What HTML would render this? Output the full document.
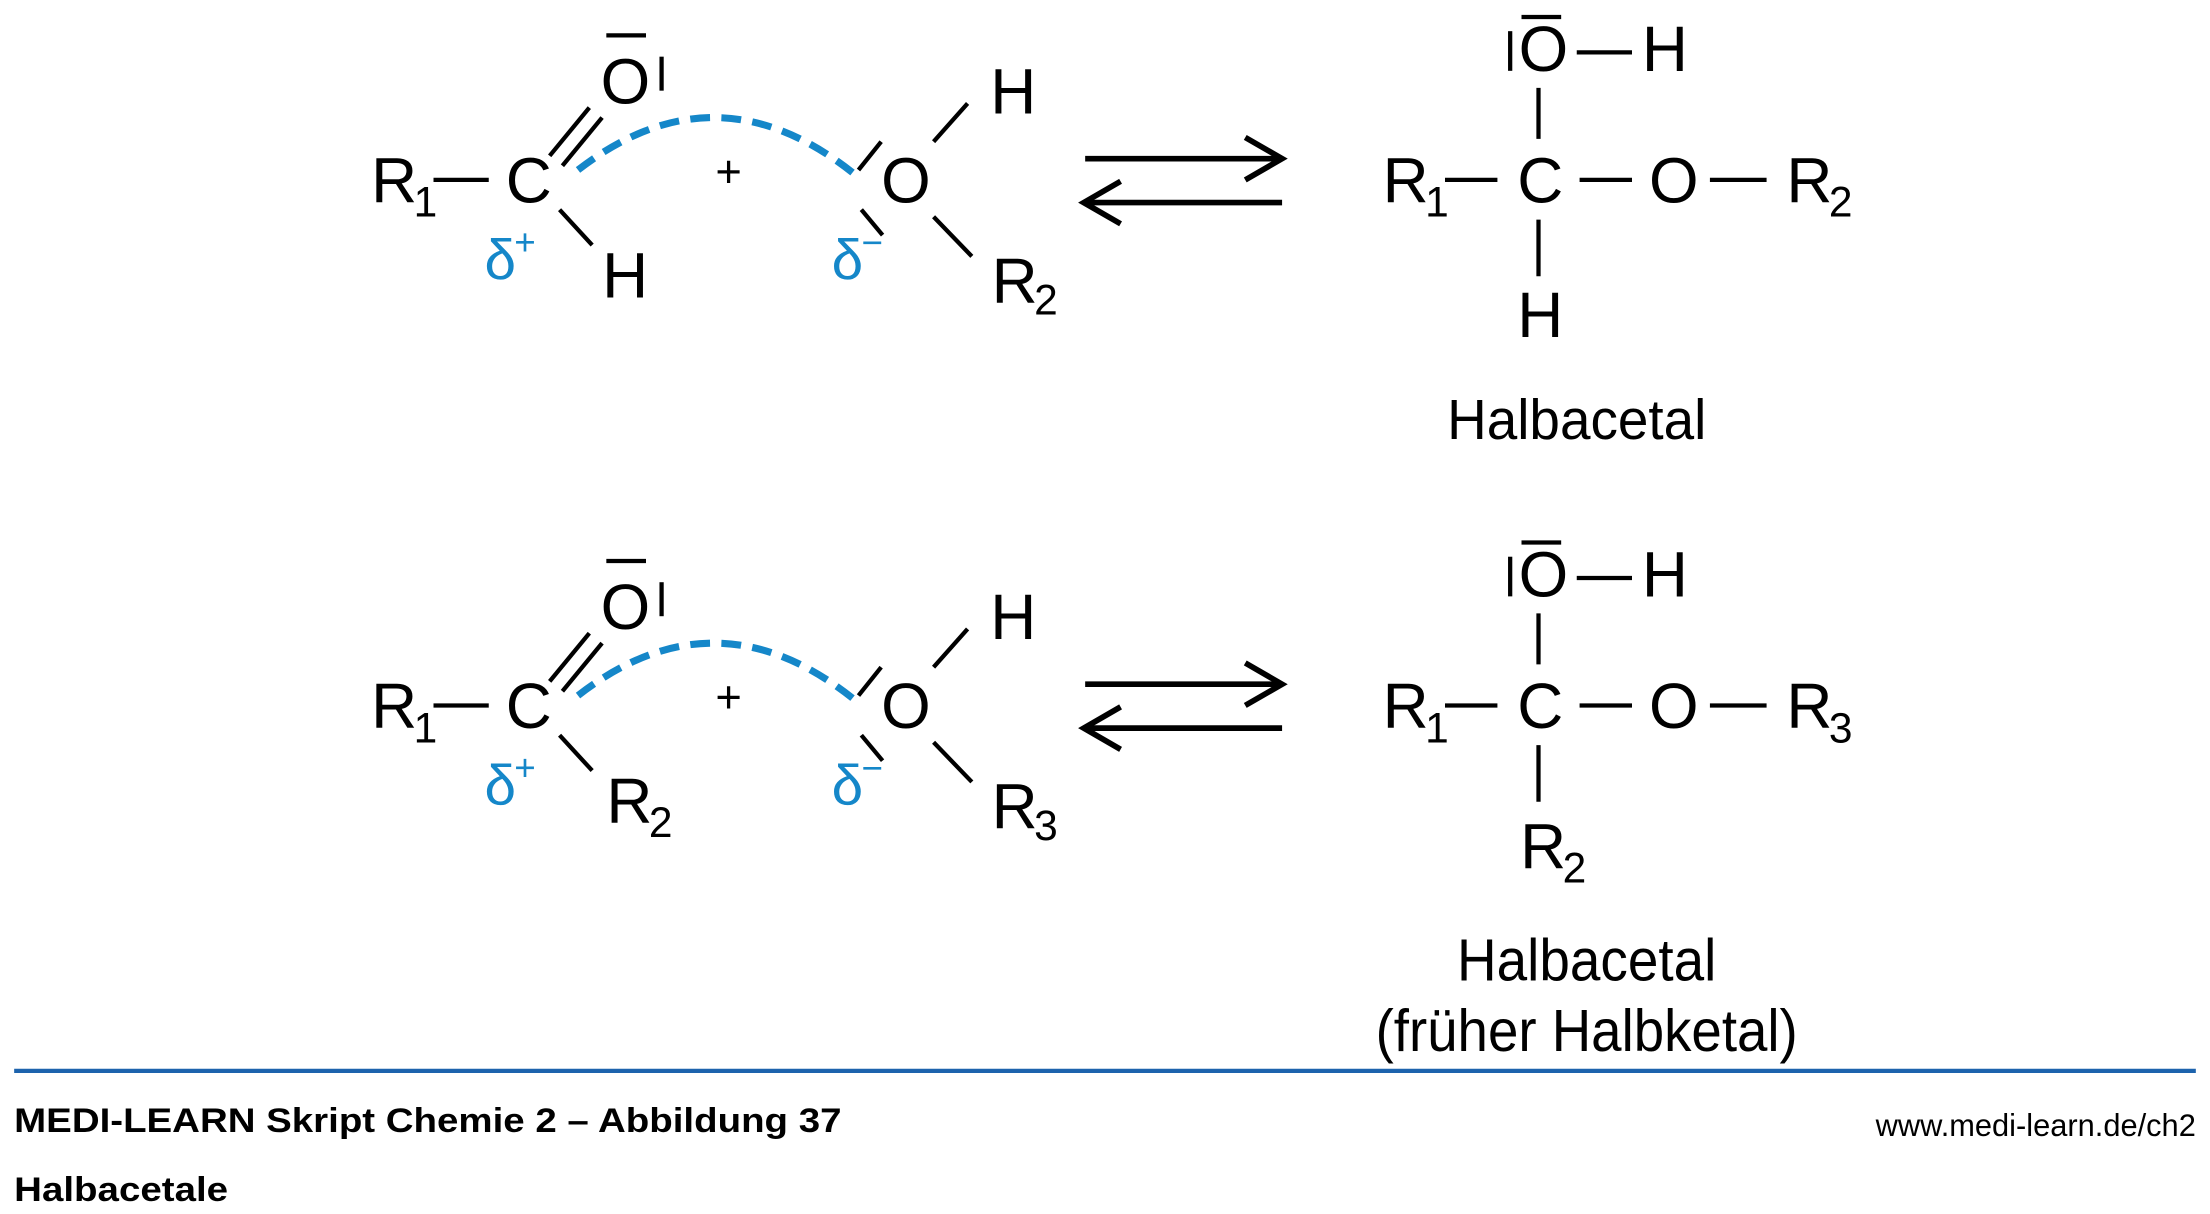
<!DOCTYPE html>
<html><head><meta charset="utf-8"><style>
html,body{margin:0;padding:0;background:#fff;}
svg{display:block;}
text{font-family:"Liberation Sans",sans-serif;fill:#000;}
</style></head><body>
<svg width="2210" height="1214" viewBox="0 0 1560 857" preserveAspectRatio="none" xmlns="http://www.w3.org/2000/svg">
<defs>
<g id="left">
  <text x="262" y="143" font-size="45">R</text><text x="292" y="153" font-size="30">1</text>
  <line x1="306" y1="127" x2="345" y2="127" stroke="#000" stroke-width="3"/>
  <text x="357" y="143" font-size="45">C</text>
  <line x1="388" y1="110" x2="416" y2="76" stroke="#000" stroke-width="3"/>
  <line x1="397" y1="117" x2="425" y2="83" stroke="#000" stroke-width="3"/>
  <text x="424" y="73" font-size="45">O</text>
  <line x1="428" y1="25" x2="456" y2="25" stroke="#000" stroke-width="3"/>
  <line x1="467" y1="40" x2="467" y2="64" stroke="#000" stroke-width="3"/>
  <path d="M408 120 Q505 45 602 122" fill="none" stroke="#1587c9" stroke-width="5" stroke-dasharray="14 8"/>
  <text x="505" y="132" font-size="32">+</text>
  <line x1="606" y1="120" x2="622" y2="100" stroke="#000" stroke-width="3"/>
  <line x1="608" y1="148" x2="623" y2="166" stroke="#000" stroke-width="3"/>
  <text x="622" y="143" font-size="45">O</text>
  <line x1="659" y1="100" x2="683" y2="73" stroke="#000" stroke-width="3"/>
  <text x="699" y="80" font-size="45">H</text>
  <line x1="659" y1="153" x2="686" y2="181" stroke="#000" stroke-width="3"/>
  <text x="700" y="214" font-size="45">R</text>
  <line x1="766" y1="112" x2="905" y2="112" stroke="#000" stroke-width="4"/>
  <polyline points="879,97 905,112 879,127" fill="none" stroke="#000" stroke-width="4"/>
  <line x1="765" y1="143" x2="905" y2="143" stroke="#000" stroke-width="4"/>
  <polyline points="791,128 765,143 791,158" fill="none" stroke="#000" stroke-width="4"/>
  <line x1="1066" y1="22" x2="1066" y2="50" stroke="#000" stroke-width="3"/>
  <text x="1072" y="50" font-size="45">O</text>
  <line x1="1074" y1="12" x2="1102" y2="12" stroke="#000" stroke-width="3"/>
  <line x1="1113" y1="37" x2="1152" y2="37" stroke="#000" stroke-width="3"/>
  <text x="1159" y="50" font-size="45">H</text>
  <line x1="1086" y1="62" x2="1086" y2="98" stroke="#000" stroke-width="3"/>
  <text x="976" y="143" font-size="45">R</text><text x="1006" y="153" font-size="30">1</text>
  <line x1="1020" y1="127" x2="1057" y2="127" stroke="#000" stroke-width="3"/>
  <text x="1071" y="143" font-size="45">C</text>
  <line x1="1115" y1="127" x2="1152" y2="127" stroke="#000" stroke-width="3"/>
  <text x="1164" y="143" font-size="45">O</text>
  <line x1="1207" y1="127" x2="1247" y2="127" stroke="#000" stroke-width="3"/>
  <text x="1261" y="143" font-size="45">R</text>
  <line x1="1086" y1="155" x2="1086" y2="195" stroke="#000" stroke-width="3"/>
</g>
</defs>

<!-- top row -->
<use href="#left"/>
<line x1="395" y1="148" x2="418" y2="173" stroke="#000" stroke-width="3"/>
<text x="425" y="210" font-size="45">H</text>
<text x="342" y="197" font-size="40" fill="#1587c9" style="fill:#1587c9">δ</text><text x="363" y="180" font-size="26" style="fill:#1587c9">+</text>
<text x="587" y="197" font-size="40" style="fill:#1587c9">δ</text><text x="608" y="180" font-size="26" style="fill:#1587c9">−</text>
<text x="730" y="222" font-size="30">2</text>
<text x="1291" y="153" font-size="30">2</text>
<text x="1071" y="238" font-size="45">H</text>
<text x="1113" y="310" font-size="40" text-anchor="middle" textLength="183" lengthAdjust="spacingAndGlyphs">Halbacetal</text>

<!-- bottom row -->
<g transform="translate(0,371)"><use href="#left"/></g>
<line x1="395" y1="519" x2="418" y2="544" stroke="#000" stroke-width="3"/>
<text x="428" y="581" font-size="45">R</text><text x="458" y="591" font-size="30">2</text>
<text x="342" y="568" font-size="40" style="fill:#1587c9">δ</text><text x="363" y="551" font-size="26" style="fill:#1587c9">+</text>
<text x="587" y="568" font-size="40" style="fill:#1587c9">δ</text><text x="608" y="551" font-size="26" style="fill:#1587c9">−</text>
<text x="730" y="593" font-size="30">3</text>
<text x="1291" y="524" font-size="30">3</text>
<text x="1073" y="613" font-size="45">R</text><text x="1103" y="623" font-size="30">2</text>
<text x="1120" y="692" font-size="42" text-anchor="middle" textLength="183" lengthAdjust="spacingAndGlyphs">Halbacetal</text>
<text x="1120" y="742" font-size="42" text-anchor="middle" textLength="298" lengthAdjust="spacingAndGlyphs">(früher Halbketal)</text>

<!-- footer -->
<line x1="10" y1="756" x2="1550" y2="756" stroke="#1d63ad" stroke-width="3"/>
<text x="10" y="799" font-size="24" font-weight="bold" textLength="584" lengthAdjust="spacingAndGlyphs">MEDI-LEARN Skript Chemie 2 – Abbildung 37</text>
<text x="10" y="848" font-size="24" font-weight="bold" textLength="151" lengthAdjust="spacingAndGlyphs">Halbacetale</text>
<text x="1550" y="802" font-size="22" text-anchor="end" textLength="226" lengthAdjust="spacingAndGlyphs">www.medi-learn.de/ch2</text>
</svg>
</body></html>
